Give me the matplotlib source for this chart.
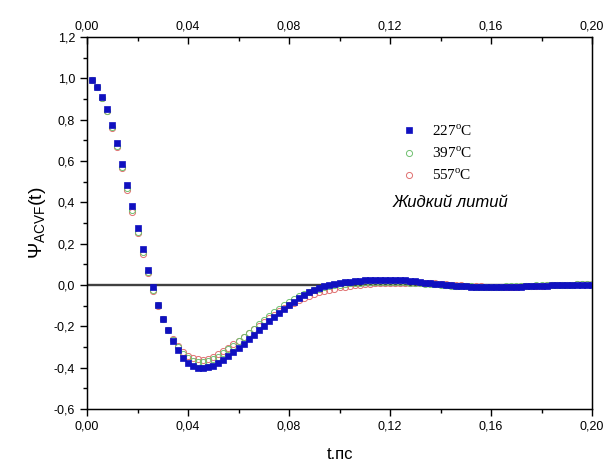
import numpy as np
import matplotlib
matplotlib.use("Agg")
import matplotlib.pyplot as plt
from matplotlib.ticker import MultipleLocator, FuncFormatter

plt.rcParams['font.family'] = ['Liberation Sans', 'DejaVu Sans']
plt.rcParams['mathtext.fontset'] = 'custom'
plt.rcParams['mathtext.rm'] = 'Liberation Sans'

# time grid, ps
t = np.round(np.arange(1, 101) * 0.002, 3)

# 227 C
psi_227 = [
    0.99, 0.96, 0.91, 0.85, 0.775, 0.685, 0.585, 0.485, 0.38, 0.275,
    0.175, 0.075, -0.01, -0.095, -0.165, -0.22, -0.27, -0.315, -0.355, -0.378,
    -0.392, -0.40, -0.402, -0.398, -0.39, -0.377, -0.362, -0.345, -0.325, -0.305,
    -0.285, -0.262, -0.24, -0.218, -0.197, -0.176, -0.155, -0.135, -0.115, -0.097,
    -0.08, -0.063, -0.048, -0.035, -0.024, -0.014, -0.006, 0.001, 0.006, 0.010,
    0.014, 0.017, 0.019, 0.021, 0.022, 0.023, 0.024, 0.025, 0.025, 0.025,
    0.025, 0.024, 0.023, 0.021, 0.018, 0.015, 0.012, 0.009, 0.006, 0.003,
    0.0, -0.002, -0.004, -0.006, -0.007, -0.008, -0.009, -0.009, -0.01, -0.01,
    -0.01, -0.01, -0.009, -0.009, -0.008, -0.008, -0.007, -0.006, -0.005, -0.004,
    -0.003, -0.002, -0.001, 0.0, 0.0, 0.001, 0.001, 0.001, 0.001, 0.001,
]

# 397 C
psi_397 = [
    0.99, 0.958, 0.907, 0.843, 0.765, 0.674, 0.572, 0.468, 0.362, 0.258,
    0.158, 0.063, -0.022, -0.098, -0.165, -0.22, -0.265, -0.302, -0.332, -0.354,
    -0.367, -0.373, -0.374, -0.37, -0.36, -0.346, -0.33, -0.312, -0.293, -0.273,
    -0.253, -0.232, -0.211, -0.191, -0.171, -0.151, -0.132, -0.114, -0.097, -0.082,
    -0.068, -0.055, -0.044, -0.034, -0.025, -0.018, -0.012, -0.006, -0.002, 0.002,
    0.005, 0.008, 0.010, 0.012, 0.013, 0.014, 0.015, 0.015, 0.015, 0.015,
    0.015, 0.014, 0.013, 0.012, 0.011, 0.009, 0.007, 0.005, 0.003, 0.001,
    -0.001, -0.003, -0.004, -0.005, -0.006, -0.007, -0.008, -0.008, -0.008, -0.008,
    -0.008, -0.008, -0.007, -0.007, -0.006, -0.005, -0.004, -0.003, -0.002, -0.001,
    0.0, 0.001, 0.001, 0.002, 0.002, 0.002, 0.003, 0.003, 0.003, 0.003,
]

# 557 C
psi_557 = [
    0.99, 0.958, 0.905, 0.84, 0.76, 0.668, 0.565, 0.46, 0.355, 0.25,
    0.15, 0.057, -0.027, -0.10, -0.165, -0.218, -0.262, -0.295, -0.322, -0.342,
    -0.354, -0.36, -0.362, -0.358, -0.348, -0.335, -0.32, -0.304, -0.287, -0.27,
    -0.252, -0.233, -0.214, -0.196, -0.178, -0.16, -0.143, -0.127, -0.112, -0.098,
    -0.085, -0.073, -0.062, -0.052, -0.043, -0.035, -0.028, -0.022, -0.017, -0.012,
    -0.008, -0.004, -0.001, 0.002, 0.004, 0.006, 0.008, 0.009, 0.010, 0.011,
    0.011, 0.012, 0.012, 0.012, 0.012, 0.011, 0.010, 0.009, 0.008, 0.006,
    0.004, 0.002, 0.0, -0.002, -0.003, -0.005, -0.006, -0.007, -0.008, -0.008,
    -0.009, -0.009, -0.009, -0.008, -0.008, -0.007, -0.006, -0.005, -0.004, -0.003,
    -0.002, -0.001, 0.0, 0.001, 0.002, 0.002, 0.003, 0.003, 0.003, 0.003,
]

labels = ['227', '397', '557']

fig = plt.figure(figsize=(6.08, 4.65), dpi=100)
ax = fig.add_axes([0.1431, 0.1204, 0.8306, 0.80])

ax.axhline(0, color='#404040', lw=1.7, zorder=1)

h557, = ax.plot(t, psi_557, 'o', ms=4.4, mfc='none', mec='#e07070', mew=0.7,
                label=labels[2] + '$^{\\mathregular{o}}$C', zorder=2)
h397, = ax.plot(t, psi_397, 'o', ms=4.4, mfc='none', mec='#70c070', mew=0.7,
                label=labels[1] + '$^{\\mathregular{o}}$C', zorder=3)
h227, = ax.plot(t, psi_227, 's', ms=3.8, mfc='#1010c0', mec='#1010c0', mew=0.5,
                label=labels[0] + '$^{\\mathregular{o}}$C', zorder=4)

ax.set_xlim(0, 0.2)
ax.set_ylim(-0.6, 1.2)

fmt_x = FuncFormatter(lambda v, p: f'{v:.2f}'.replace('.', ','))
fmt_y = FuncFormatter(lambda v, p: f'{v:.1f}'.replace('.', ',').replace('-0,0', '0,0'))
ax.xaxis.set_major_locator(MultipleLocator(0.04))
ax.xaxis.set_minor_locator(MultipleLocator(0.02))
ax.yaxis.set_major_locator(MultipleLocator(0.2))
ax.yaxis.set_minor_locator(MultipleLocator(0.1))
ax.xaxis.set_major_formatter(fmt_x)
ax.yaxis.set_major_formatter(fmt_y)

ax.tick_params(axis='x', which='both', bottom=True, top=False, direction='out',
               labelsize=9)
ax.tick_params(axis='y', which='both', left=True, right=False, direction='out',
               labelsize=9)
ax.tick_params(which='major', length=5, width=1)
ax.tick_params(which='minor', length=3, width=1)

# top axis with inward ticks
top = ax.twiny()
top.set_xlim(ax.get_xlim())
top.xaxis.set_major_locator(MultipleLocator(0.04))
top.xaxis.set_minor_locator(MultipleLocator(0.02))
top.xaxis.set_major_formatter(fmt_x)
top.tick_params(which='both', direction='in', labelsize=9)
top.tick_params(which='major', length=5, width=1)
top.tick_params(which='minor', length=3, width=1)

for s in ax.spines.values():
    s.set_linewidth(1.0)

ax.set_xlabel('t.пс', fontsize=12, labelpad=10)
ax.set_ylabel('$\\mathregular{\\Psi_{ACVF}(t)}$', fontsize=14, labelpad=4)

leg = ax.legend(handles=[h227, h397, h557], loc='upper left',
                bbox_to_anchor=(0.595, 0.805), frameon=False,
                prop={'family': 'Liberation Serif', 'size': 11},
                handletextpad=1.0, labelspacing=0.45, handlelength=1.0)

ax.text(0.72, 0.555, 'Жидкий литий', transform=ax.transAxes, fontsize=12,
        style='italic', ha='center', va='center')

fig.savefig('out.png', dpi=100)
